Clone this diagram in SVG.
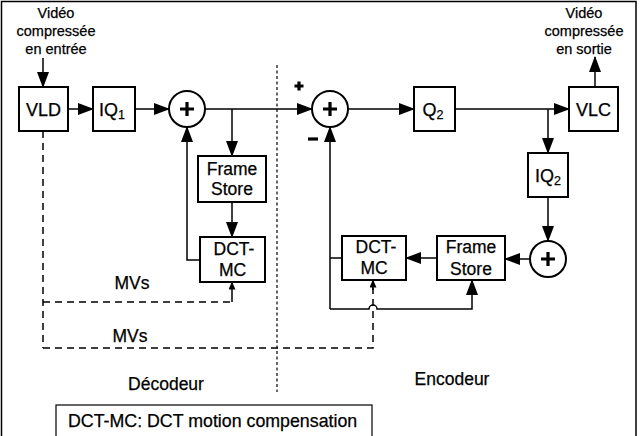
<svg xmlns="http://www.w3.org/2000/svg" width="640" height="436" viewBox="0 0 640 436">
<defs>
<style>
text{font-family:"Liberation Sans",Arial,sans-serif;fill:#000;stroke:#000;stroke-width:0.25}
.lbl{font-size:14.5px;text-anchor:middle}
.box{font-size:17.5px;text-anchor:middle}
.big{font-size:18px;text-anchor:middle}
.sub{font-size:12.5px}
rect.n{fill:#fff;stroke:#000;stroke-width:2}
circle.n{fill:#fff;stroke:#000;stroke-width:2}
.pl{stroke:#000;stroke-width:3.2;fill:none}
.c{stroke:#000;stroke-width:1.5;fill:none}
.d{stroke:#000;stroke-width:1.5;fill:none;stroke-dasharray:7,5}
.div{stroke:#000;stroke-width:1.2;fill:none;stroke-dasharray:3,2.5}
</style>
<marker id="ah" markerWidth="16" markerHeight="12" refX="15" refY="6" orient="auto" markerUnits="userSpaceOnUse">
<path d="M0,0 L16,6 L0,12 Z" fill="#000"/>
</marker>
<marker id="as" markerWidth="8" markerHeight="7" refX="7.5" refY="3.5" orient="auto" markerUnits="userSpaceOnUse">
<path d="M0,0 L8,3.5 L0,7 Z" fill="#000"/>
</marker>
</defs>
<rect width="640" height="436" fill="#fff"/>
<path d="M1.5,440 V1.5 H636 V440" fill="none" stroke="#000" stroke-width="1.5"/>

<g id="connectors">
<line class="c" x1="43" y1="58" x2="43" y2="87" marker-end="url(#ah)"/>
<line class="c" x1="68" y1="109" x2="93" y2="109" marker-end="url(#ah)"/>
<line class="c" x1="135" y1="109" x2="169" y2="109" marker-end="url(#ah)"/>
<line class="c" x1="205" y1="109" x2="312" y2="109" marker-end="url(#ah)"/>
<line class="c" x1="232" y1="109" x2="232" y2="156" marker-end="url(#ah)"/>
<line class="c" x1="232" y1="202" x2="232" y2="237" marker-end="url(#ah)"/>
<polyline class="c" points="200,260 187,260 187,127" marker-end="url(#ah)"/>
<line class="c" x1="348" y1="109" x2="414" y2="109" marker-end="url(#ah)"/>
<line class="c" x1="455" y1="109" x2="569" y2="109" marker-end="url(#ah)"/>
<line class="c" x1="548" y1="109" x2="548" y2="153" marker-end="url(#ah)"/>
<line class="c" x1="595" y1="87" x2="595" y2="57" marker-end="url(#ah)"/>
<line class="c" x1="548" y1="197" x2="548" y2="241" marker-end="url(#ah)"/>
<line class="c" x1="530" y1="259" x2="505" y2="259" marker-end="url(#ah)"/>
<line class="c" x1="437" y1="258" x2="406" y2="258" marker-end="url(#ah)"/>
<line class="c" x1="342" y1="258" x2="330" y2="258"/>
<line class="c" x1="330" y1="309" x2="330" y2="127" marker-end="url(#ah)"/>
<path class="c" d="M330,309 H369 A4,4 0 0 1 377,309 H472 V280" marker-end="url(#ah)"/>
<line class="d" x1="43" y1="131" x2="43" y2="348"/>
<polyline class="d" points="43,302 232,302"/>
<line class="c" x1="232" y1="302" x2="232" y2="282" marker-end="url(#as)"/>
<polyline class="d" points="43,348 373,348 373,288"/>
<line class="c" x1="373" y1="290" x2="373" y2="280" marker-end="url(#as)"/>
<line class="div" x1="277" y1="65" x2="277" y2="392"/>
</g>

<g id="in-label">
<text class="lbl" x="56" y="18">Vidéo</text>
<text class="lbl" x="56" y="36">compressée</text>
<text class="lbl" x="56" y="54">en entrée</text>
</g>
<g id="out-label">
<text class="lbl" x="584" y="18">Vidéo</text>
<text class="lbl" x="584" y="36">compressée</text>
<text class="lbl" x="584" y="54">en sortie</text>
</g>

<g id="vld"><rect class="n" x="19" y="87" width="49" height="44"/><text class="big" x="43.5" y="115.5">VLD</text></g>
<g id="iq1"><rect class="n" x="93" y="87" width="42" height="44"/><text class="big" x="112" y="115.5">IQ<tspan class="sub" dy="3">1</tspan></text></g>
<g id="sum1"><circle class="n" cx="187" cy="109" r="18"/><path class="pl" d="M180,109 H194 M187,102 V116"/></g>
<g id="fs1"><rect class="n" x="198" y="156" width="68" height="46"/><text class="box" x="232" y="175">Frame</text><text class="box" x="232" y="195">Store</text></g>
<g id="mc1"><rect class="n" x="200" y="237" width="65" height="45"/><text class="box" x="234" y="255">DCT-</text><text class="box" x="232.5" y="276">MC</text></g>

<g id="sum2"><circle class="n" cx="330" cy="109" r="18"/><path class="pl" d="M323,109 H337 M330,102 V116"/></g>
<g id="signs"><path class="pl" d="M294.5,86 H303.5 M299,81.5 V90.5" stroke-width="2.6"/><path class="pl" d="M308,139 H318" stroke-width="2.6"/></g>
<g id="q2"><rect class="n" x="414" y="87" width="41" height="44"/><text class="big" x="433" y="115.5">Q<tspan class="sub" dy="3">2</tspan></text></g>
<g id="vlc"><rect class="n" x="569" y="87" width="49" height="44"/><text class="big" x="593.5" y="115.5">VLC</text></g>
<g id="iq2"><rect class="n" x="528" y="153" width="40" height="44"/><text class="big" x="548" y="181.5">IQ<tspan class="sub" dy="3">2</tspan></text></g>
<g id="sum3"><circle class="n" cx="548" cy="259" r="18"/><path class="pl" d="M541,259 H555 M548,252 V266"/></g>
<g id="fs2"><rect class="n" x="437" y="236" width="68" height="44"/><text class="box" x="471" y="253">Frame</text><text class="box" x="471" y="275">Store</text></g>
<g id="mc2"><rect class="n" x="342" y="236" width="64" height="44"/><text class="box" x="376" y="253">DCT-</text><text class="box" x="374" y="274">MC</text></g>

<g id="labels">
<text class="box" x="132" y="289">MVs</text>
<text class="box" x="130" y="342">MVs</text>
<text class="box" x="166" y="390">Décodeur</text>
<text class="box" x="452" y="385">Encodeur</text>
</g>
<g id="legend"><rect x="56" y="405" width="316" height="40" fill="#fff" stroke="#000" stroke-width="1.2"/><text x="68" y="427" style="font-size:17.8px">DCT-MC: DCT motion compensation</text></g>
</svg>
